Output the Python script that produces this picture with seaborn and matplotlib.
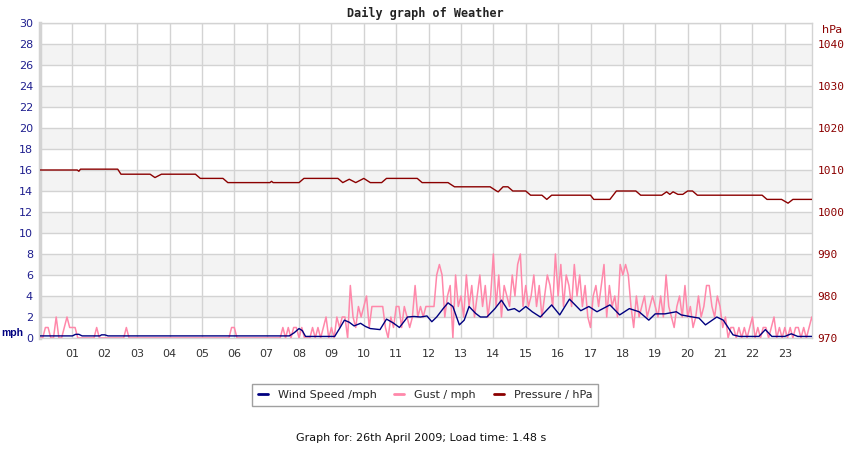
import numpy as np
import pandas as pd
from matplotlib import pyplot as plt
import seaborn as sns

# horas del dia y etiquetas del eje x
hour_ticks = list(range(1, 24))
hour_labels = ['%02d' % h for h in hour_ticks]

# rafagas (mph) cada 5 minutos, una fila por hora
gust = [
    0, 0, 1, 1, 0, 0, 2, 0, 0, 1, 2, 1,
    1, 1, 0, 0, 0, 0, 0, 0, 0, 1, 0, 0,
    0, 0, 0, 0, 0, 0, 0, 0, 1, 0, 0, 0,
    0, 0, 0, 0, 0, 0, 0, 0, 0, 0, 0, 0,
    0, 0, 0, 0, 0, 0, 0, 0, 0, 0, 0, 0,
    0, 0, 0, 0, 0, 0, 0, 0, 0, 0, 0, 1,
    1, 0, 0, 0, 0, 0, 0, 0, 0, 0, 0, 0,
    0, 0, 0, 0, 0, 0, 1, 0, 1, 0, 1, 1,
    0, 1, 0, 0, 0, 1, 0, 1, 0, 1, 2, 0,
    1, 0, 2, 1, 2, 2, 0, 5, 2, 1, 3, 2,
    3, 4, 1, 3, 3, 3, 3, 3, 1, 0, 2, 1,
    3, 3, 1, 3, 2, 1, 2, 5, 2, 3, 2, 3,
    3, 3, 3, 6, 7, 6, 2, 4, 5, 0, 6, 3,
    4, 2, 6, 3, 5, 2, 4, 6, 3, 5, 2, 4,
    8, 3, 6, 2, 5, 4, 3, 6, 4, 7, 8, 3,
    5, 3, 4, 6, 3, 5, 2, 4, 6, 5, 3, 8,
    4, 7, 3, 6, 5, 3, 7, 4, 6, 3, 5, 2,
    1, 4, 5, 3, 5, 7, 2, 5, 3, 4, 2, 7,
    6, 7, 6, 3, 1, 4, 2, 3, 4, 2, 3, 4,
    3, 2, 4, 2, 6, 3, 2, 1, 3, 4, 2, 5,
    2, 3, 1, 2, 4, 2, 3, 5, 5, 3, 2, 4,
    3, 1, 2, 0, 1, 1, 0, 1, 0, 1, 0, 1,
    2, 0, 1, 0, 1, 1, 0, 1, 2, 0, 1, 0,
    1, 0, 1, 0, 1, 1, 0, 1, 0, 1, 2, 1,
]
gust_time = np.arange(len(gust)) / 12

# velocidad del viento (mph)
wind_time = [0.0, 1.0, 1.1, 1.2, 1.3, 1.85, 1.9, 2.0, 2.1, 7.7, 7.85, 8.0, 8.1, 8.2,
             9.1, 9.25, 9.4, 9.55, 9.7, 9.9, 10.05, 10.2, 10.5, 10.7, 10.9, 11.1,
             11.35, 11.55, 11.75, 11.95, 12.1, 12.25, 12.45, 12.6, 12.75, 12.95,
             13.1, 13.25, 13.45, 13.6, 13.8, 14.05, 14.25, 14.45, 14.65, 14.8, 15.0,
             15.2, 15.45, 15.8, 16.05, 16.35, 16.7, 16.95, 17.2, 17.6, 17.9, 18.2,
             18.5, 18.8, 19.0, 19.3, 19.65, 19.8, 20.15, 20.35, 20.55, 20.9, 21.1,
             21.4, 21.6, 22.2, 22.4, 22.6, 23.0, 23.2, 23.4, 23.84]
wind = [0.2, 0.2, 0.35, 0.35, 0.2, 0.2, 0.3, 0.3, 0.2, 0.2, 0.5, 0.9, 0.7, 0.15,
        0.15, 0.9, 1.7, 1.5, 1.15, 1.4, 1.1, 0.9, 0.8, 1.8, 1.45, 1.0,
        2.0, 2.05, 2.0, 2.1, 1.55, 2.0, 2.8, 3.35, 3.0, 1.25,
        1.7, 3.0, 2.35, 2.0, 2.0, 2.8, 3.6, 2.65, 2.8, 2.5, 3.0,
        2.5, 2.0, 3.15, 2.2, 3.7, 2.6, 3.0, 2.5, 3.15, 2.2, 2.8,
        2.5, 1.7, 2.3, 2.3, 2.5, 2.2, 2.0, 1.9, 1.25, 2.0, 1.7,
        0.3, 0.15, 0.15, 0.8, 0.15, 0.15, 0.4, 0.15, 0.15]

# presion (hPa)
pres_time = [0.0, 1.15, 1.2, 1.25, 2.4, 2.5, 3.4, 3.55, 3.75, 4.8, 4.95, 5.65, 5.8,
             7.1, 7.15, 7.2, 8.0, 8.15, 9.2, 9.35, 9.55, 9.75, 10.0, 10.2, 10.55,
             10.7, 11.65, 11.8, 12.6, 12.8, 13.9, 14.1, 14.15, 14.3, 14.45, 14.6,
             15.0, 15.15, 15.5, 15.65, 15.8, 17.0, 17.1, 17.6, 17.8, 18.4, 18.55,
             19.2, 19.35, 19.45, 19.55, 19.7, 19.85, 20.0, 20.15, 20.3, 22.3, 22.45,
             22.9, 23.1, 23.25, 23.84]
pressure = [1010, 1010, 1009.7, 1010.2, 1010.2, 1009, 1009, 1008.2, 1009, 1009, 1008,
            1008, 1007, 1007, 1007.3, 1007, 1007, 1008, 1008, 1007, 1007.8, 1007,
            1008, 1007, 1007, 1008, 1008, 1007, 1007, 1006, 1006, 1005, 1004.8, 1006,
            1006, 1005, 1005, 1004, 1004, 1003, 1004, 1004, 1003, 1003, 1005, 1005,
            1004, 1004, 1004.8, 1004.2, 1004.8, 1004.2, 1004.2, 1005, 1005, 1004,
            1004, 1003, 1003, 1002.1, 1003, 1003]

c_wind = '#000080'
c_gust = '#ff88aa'
c_pres = '#8b0000'
c_grid = '#d3d3d3'

sns.set_style('white')
fig = plt.figure(figsize=(8.5, 4.5), dpi=100)
ax = fig.add_axes([40 / 850, 1 - 338 / 450, 772 / 850, 315 / 450])

# bandas grises horizontales
for y0 in range(2, 28, 4):
    ax.axhspan(y0, y0 + 2, color='#f3f3f3', zorder=0, lw=0)
ax.set_axisbelow(True)
ax.grid(True, color=c_grid, lw=1)

sns.lineplot(x=gust_time, y=gust, ax=ax, color=c_gust, lw=1.1, zorder=3)
sns.lineplot(x=wind_time, y=wind, ax=ax, color=c_wind, lw=1, zorder=4)

ax.set_xlim(0, 23.84)
ax.set_ylim(0, 30)
ax.set_xticks(hour_ticks)
ax.set_xticklabels(hour_labels)
ax.set_yticks(range(0, 31, 2))
ax.tick_params(axis='y', length=0, pad=5, labelsize=8, labelcolor='#1f1f8f')
ax.tick_params(axis='x', length=0, pad=8, labelsize=8, labelcolor='#333333')
for s in ax.spines.values():
    s.set_color(c_grid)
    s.set_linewidth(1)
ax.spines['left'].set_linewidth(2.5)

ax2 = ax.twinx()
sns.lineplot(x=pres_time, y=pressure, ax=ax2, color=c_pres, lw=1)
ax2.set_ylim(970, 1045)
ax2.set_yticks(range(970, 1041, 10))
ax2.tick_params(axis='y', length=0, pad=4, labelsize=8, labelcolor=c_pres)
for lab in ax2.get_yticklabels():
    lab.set_family('DejaVu Sans Mono')
ax2.grid(False)
for s in ax2.spines.values():
    s.set_visible(False)
ax2.set_xlim(0, 23.84)

fig.text(0.5, 1 - 13 / 450, 'Daily graph of Weather', ha='center', va='center',
         family='DejaVu Sans Mono', fontweight='bold', fontsize=8.5, color='#222222')
fig.text(1 / 850, 1 - 333 / 450, 'mph', ha='left', va='center', family='Liberation Sans',
         fontweight='bold', fontsize=7.5, color='#000080')
fig.text(822 / 850, 1 - 30 / 450, 'hPa', ha='left', va='center',
         fontsize=8, color=c_pres)

handles = [plt.Line2D([], [], color=c_wind, lw=2),
           plt.Line2D([], [], color=c_gust, lw=2),
           plt.Line2D([], [], color=c_pres, lw=2)]
fig.legend(handles, ['Wind Speed /mph', 'Gust / mph', 'Pressure / hPa'],
           loc='center', bbox_to_anchor=(425 / 850, 1 - 395 / 450), ncol=3,
           fontsize=8, frameon=True, fancybox=False, edgecolor='#888888',
           handlelength=0.9, handletextpad=0.9, columnspacing=1.6,
           borderpad=0.5)

fig.text(421 / 850, 1 - 438 / 450, 'Graph for: 26th April 2009; Load time: 1.48 s',
         ha='center', va='center', fontsize=8, color='#111111')

plt.savefig('out.png', dpi=100)
